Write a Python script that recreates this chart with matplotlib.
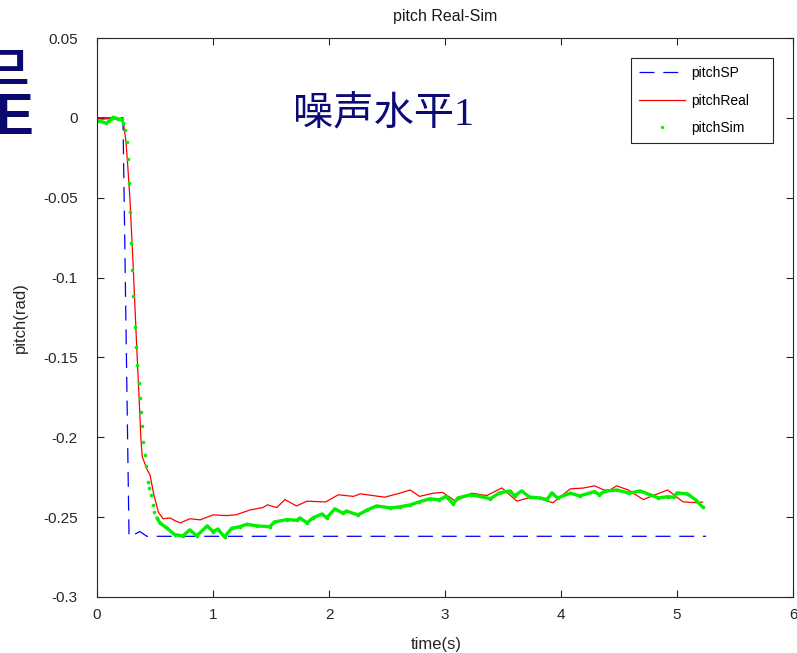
import matplotlib
matplotlib.use('Agg')
import matplotlib.pyplot as plt
import numpy as np
from matplotlib.ticker import FuncFormatter, FixedLocator

plt.rcParams['font.family'] = ['Liberation Sans', 'DejaVu Sans']

# ---------------- data ----------------
sp_t = [0.0, 0.224, 0.276, 0.30, 0.33, 0.37, 0.40, 0.43, 5.25]
sp_v = [0.0, 0.0, -0.262, -0.262, -0.2605, -0.259, -0.2605, -0.262, -0.262]

real_t = [0.0, 0.05, 0.10, 0.15, 0.20, 0.224, 0.25, 0.265, 0.284, 0.31, 0.336, 0.362,
          0.379, 0.39, 0.43, 0.457, 0.49, 0.53, 0.57, 0.63, 0.68, 0.72, 0.80, 0.89,
          1.0, 1.12, 1.2, 1.32, 1.43, 1.47, 1.55, 1.62, 1.72, 1.81, 1.97, 2.08, 2.21,
          2.27, 2.48, 2.61, 2.70, 2.78, 2.90, 2.98, 3.09, 3.23, 3.36, 3.49, 3.62, 3.76,
          3.93, 4.08, 4.19, 4.29, 4.40, 4.48, 4.58, 4.71, 4.81, 4.92, 5.05, 5.18, 5.22]
real_v = [-0.0005, -0.0008, -0.0005, -0.0007, -0.0008, -0.001, -0.015, -0.030, -0.051,
          -0.090, -0.133, -0.174, -0.2016, -0.212, -0.220, -0.2235, -0.236, -0.247,
          -0.251, -0.2505, -0.2525, -0.2536, -0.251, -0.2517, -0.2486, -0.249, -0.2485,
          -0.2455, -0.244, -0.2423, -0.244, -0.239, -0.243, -0.240, -0.2405, -0.236,
          -0.237, -0.2354, -0.2375, -0.235, -0.233, -0.237, -0.235, -0.2345, -0.240,
          -0.235, -0.2365, -0.2317, -0.240, -0.237, -0.241, -0.2323, -0.2318, -0.2304,
          -0.234, -0.2304, -0.233, -0.239, -0.236, -0.233, -0.2404, -0.241, -0.2405]

sim_t = [0.0, 0.03, 0.05, 0.08, 0.10, 0.12, 0.14, 0.16, 0.18, 0.20, 0.215, 0.225,
         0.241, 0.259, 0.267, 0.276, 0.284, 0.293, 0.302, 0.310, 0.328, 0.336, 0.345,
         0.362, 0.371, 0.379, 0.388, 0.397, 0.414, 0.422, 0.440, 0.448, 0.466, 0.483,
         0.491, 0.517, 0.543, 0.60, 0.67, 0.74, 0.80, 0.86, 0.95, 1.00, 1.04, 1.10,
         1.16, 1.23, 1.29, 1.38, 1.49, 1.53, 1.64, 1.72, 1.75, 1.81, 1.86, 1.94, 1.98,
         2.05, 2.12, 2.15, 2.25, 2.33, 2.41, 2.53, 2.61, 2.70, 2.78, 2.87, 2.95, 3.01,
         3.07, 3.11, 3.22, 3.30, 3.39, 3.47, 3.56, 3.60, 3.66, 3.73, 3.82, 3.88, 3.92,
         3.97, 4.08, 4.16, 4.29, 4.33, 4.38, 4.48, 4.59, 4.68, 4.77, 4.84, 4.92, 4.97,
         5.00, 5.09, 5.16, 5.22]
sim_v = [-0.002, -0.002, -0.0025, -0.0035, -0.002, -0.001, 0.0006, 0.0, -0.0005,
         -0.0008, -0.001, -0.003, -0.0075, -0.015, -0.026, -0.041, -0.0589, -0.0783,
         -0.0952, -0.1115, -0.1309, -0.1434, -0.1547, -0.1659, -0.1753, -0.1841,
         -0.1929, -0.2029, -0.211, -0.218, -0.228, -0.2317, -0.236, -0.2423, -0.2467,
         -0.2505, -0.2536, -0.2567, -0.261, -0.2617, -0.258, -0.2617, -0.2555, -0.259,
         -0.2575, -0.2624, -0.257, -0.256, -0.2545, -0.2555, -0.256, -0.253, -0.2515,
         -0.252, -0.2505, -0.2536, -0.2505, -0.248, -0.2505, -0.2448, -0.2475, -0.2462,
         -0.2486, -0.2455, -0.243, -0.2442, -0.2436, -0.2423, -0.2404, -0.2385, -0.2392,
         -0.237, -0.2417, -0.238, -0.236, -0.237, -0.2385, -0.2348, -0.2336, -0.2367,
         -0.2336, -0.2375, -0.238, -0.239, -0.2348, -0.238, -0.235, -0.2367, -0.234,
         -0.236, -0.2336, -0.233, -0.235, -0.2336, -0.236, -0.238, -0.2372, -0.2375,
         -0.2348, -0.2354, -0.2392, -0.2436]

x_ticks = [0, 1, 2, 3, 4, 5, 6]
y_ticks = [0.05, 0.0, -0.05, -0.1, -0.15, -0.2, -0.25, -0.3]

# ---------------- figure ----------------
W, H = 797, 653
fig = plt.figure(figsize=(W / 100, H / 100), dpi=100)
ax = fig.add_axes([97 / W, 1 - 597 / H, 696 / W, 559 / H])

ax.plot(sp_t, sp_v, color='#0000ff', lw=0.9, dashes=(12, 7), label='pitchSP')
ax.plot(real_t, real_v, color='#ff0000', lw=0.9, label='pitchReal')

st = np.array(sim_t)
sv = np.array(sim_v)
m1 = st <= 0.23
m2 = st >= 0.5
gc = '#00f000'
ax.plot(st[m1], sv[m1], color=gc, lw=2.0, solid_capstyle='round')
ax.plot(st[m2], sv[m2], color=gc, lw=2.4, solid_capstyle='round')
ax.plot(st, sv, linestyle='none', marker='o', ms=2.6, mew=0, color=gc,
        label='pitchSim')

ax.set_xlim(0, 6)
ax.set_ylim(-0.3, 0.05)
ax.xaxis.set_major_locator(FixedLocator(x_ticks))
ax.yaxis.set_major_locator(FixedLocator(y_ticks))
ax.xaxis.set_major_formatter(FuncFormatter(lambda v, p: '%g' % v))
ax.yaxis.set_major_formatter(FuncFormatter(lambda v, p: '%g' % round(v, 3)))

axc = '#262626'
for s in ax.spines.values():
    s.set_color(axc)
    s.set_linewidth(0.8)
ax.tick_params(direction='in', length=5, width=0.8, colors=axc, labelsize=11,
               top=True, right=True)
ax.tick_params(axis='y', pad=14)
ax.tick_params(axis='x', pad=8)

ax.set_title('pitch Real-Sim', fontsize=11.5, color='#1a1a1a', pad=12)
ax.set_xlabel('time(s)', fontsize=12, color='#262626')
ax.set_ylabel('pitch(rad)', fontsize=12, color='#262626')
ax.xaxis.set_label_coords(0.487, (597 - 644) / 559)
ax.xaxis.label.set_va('center')
ax.yaxis.set_label_coords((20 - 97) / 696, 0.5)
ax.yaxis.label.set_va('center')

lx0 = (631 - 97) / 696
lw_ = 142 / 696
ltop = (597 - 58) / 559
leg = ax.legend(loc='upper left', bbox_to_anchor=(lx0, 0.5, lw_, ltop - 0.5),
                mode='expand', fontsize=10, frameon=True, fancybox=False,
                edgecolor='#262626', framealpha=1, borderpad=0.6, labelspacing=0.95,
                handlelength=3.3, handletextpad=0.4, borderaxespad=0, markerscale=0.9)
leg.get_frame().set_linewidth(0.8)

ax.text((383 - 97) / 696, (597 - 115) / 559, '噪声水平1', transform=ax.transAxes,
        ha='center', va='center', fontsize=29, color='#0a0a78',
        family=['Liberation Serif', 'Noto Sans CJK SC'])

# cropped decorative glyphs at the far left
fig.text(28 / W, 1 - 72 / H, '므', ha='right', va='center', fontsize=33,
         fontweight='bold', color='#0a0a6e', family=['Noto Sans CJK KR'])
fig.text(-6 / W, 1 - 119 / H, 'E', ha='left', va='center', fontsize=42,
         fontweight='bold', color='#0a0a6e', family=['Liberation Sans'])

fig.savefig('out.png', dpi=100)
